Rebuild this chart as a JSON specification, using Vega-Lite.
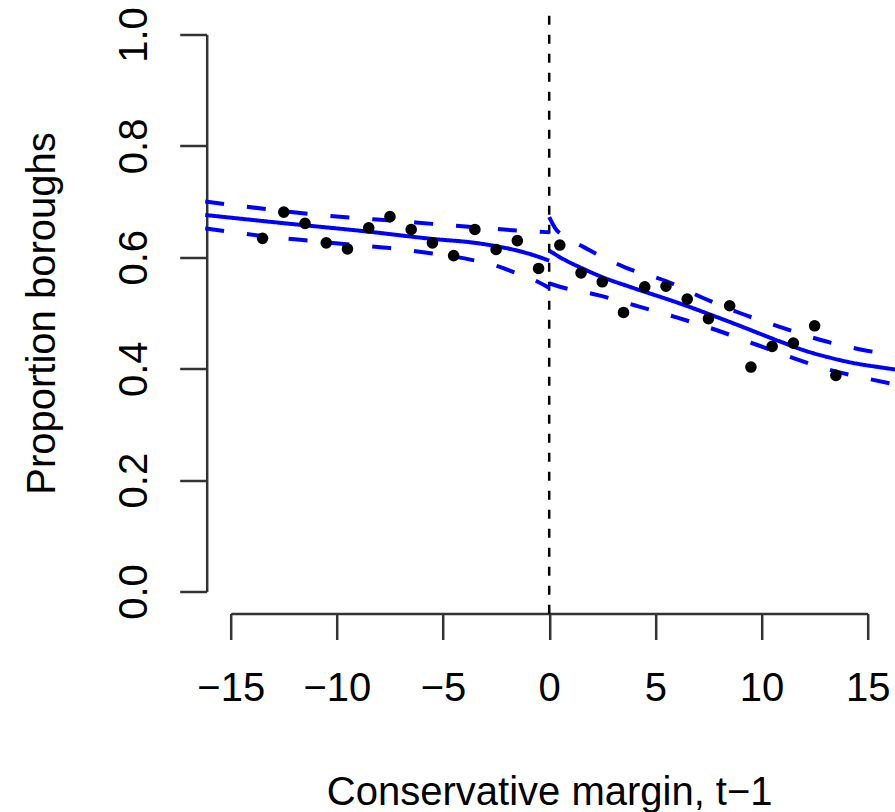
{
  "$schema": "https://vega.github.io/schema/vega-lite/v6.json",
  "width": 637,
  "height": 557,
  "autosize": {"type": "none"},
  "padding": {"left": 230.7, "top": 34.5, "right": 27.3, "bottom": 220.5},
  "background": "white",
  "config": {"view": {"stroke": null}, "font": "Liberation Sans"},
  "datasets": {
    "points": [
      {"margin": -13.5, "proportion": 0.634},
      {"margin": -12.5, "proportion": 0.681},
      {"margin": -11.5, "proportion": 0.661},
      {"margin": -10.5, "proportion": 0.626},
      {"margin": -9.5, "proportion": 0.615},
      {"margin": -8.5, "proportion": 0.653},
      {"margin": -7.5, "proportion": 0.673},
      {"margin": -6.5, "proportion": 0.65},
      {"margin": -5.5, "proportion": 0.626},
      {"margin": -4.5, "proportion": 0.603},
      {"margin": -3.5, "proportion": 0.65},
      {"margin": -2.5, "proportion": 0.614},
      {"margin": -1.5, "proportion": 0.63},
      {"margin": -0.5, "proportion": 0.58},
      {"margin": 0.5, "proportion": 0.622},
      {"margin": 1.5, "proportion": 0.572},
      {"margin": 2.5, "proportion": 0.556},
      {"margin": 3.5, "proportion": 0.501},
      {"margin": 4.5, "proportion": 0.547},
      {"margin": 5.5, "proportion": 0.548},
      {"margin": 6.5, "proportion": 0.525},
      {"margin": 7.5, "proportion": 0.49},
      {"margin": 8.5, "proportion": 0.513},
      {"margin": 9.5, "proportion": 0.403},
      {"margin": 10.5, "proportion": 0.44},
      {"margin": 11.5, "proportion": 0.446},
      {"margin": 12.5, "proportion": 0.477},
      {"margin": 13.5, "proportion": 0.388}
    ],
    "fits": [
      {"series": "fit_left", "style": "fit", "margin": -16.2, "proportion": 0.676},
      {"series": "fit_left", "style": "fit", "margin": -12.7, "proportion": 0.662},
      {"series": "fit_left", "style": "fit", "margin": -8.5, "proportion": 0.646},
      {"series": "fit_left", "style": "fit", "margin": -5.5, "proportion": 0.633},
      {"series": "fit_left", "style": "fit", "margin": -3.5, "proportion": 0.626},
      {"series": "fit_left", "style": "fit", "margin": -2.5, "proportion": 0.62},
      {"series": "fit_left", "style": "fit", "margin": -1.5, "proportion": 0.612},
      {"series": "fit_left", "style": "fit", "margin": -0.75, "proportion": 0.604},
      {"series": "fit_left", "style": "fit", "margin": 0, "proportion": 0.594},
      {"series": "upper_left", "style": "band", "margin": -16.2, "proportion": 0.7},
      {"series": "upper_left", "style": "band", "margin": -13.2, "proportion": 0.686},
      {"series": "upper_left", "style": "band", "margin": -11.3, "proportion": 0.678},
      {"series": "upper_left", "style": "band", "margin": -9.3, "proportion": 0.671},
      {"series": "upper_left", "style": "band", "margin": -7.35, "proportion": 0.666},
      {"series": "upper_left", "style": "band", "margin": -5.5, "proportion": 0.66},
      {"series": "upper_left", "style": "band", "margin": -3.5, "proportion": 0.654},
      {"series": "upper_left", "style": "band", "margin": -1.5, "proportion": 0.648},
      {"series": "upper_left", "style": "band", "margin": 0, "proportion": 0.645},
      {"series": "lower_left", "style": "band", "margin": -16.2, "proportion": 0.652},
      {"series": "lower_left", "style": "band", "margin": -13.2, "proportion": 0.637},
      {"series": "lower_left", "style": "band", "margin": -11.3, "proportion": 0.63},
      {"series": "lower_left", "style": "band", "margin": -9.2, "proportion": 0.622},
      {"series": "lower_left", "style": "band", "margin": -7.4, "proportion": 0.616},
      {"series": "lower_left", "style": "band", "margin": -5.5, "proportion": 0.607},
      {"series": "lower_left", "style": "band", "margin": -3.6, "proportion": 0.595},
      {"series": "lower_left", "style": "band", "margin": -2.5, "proportion": 0.585},
      {"series": "lower_left", "style": "band", "margin": -1.5, "proportion": 0.571},
      {"series": "lower_left", "style": "band", "margin": -0.7, "proportion": 0.559},
      {"series": "lower_left", "style": "band", "margin": 0, "proportion": 0.545},
      {"series": "fit_right", "style": "fit", "margin": 0, "proportion": 0.612},
      {"series": "fit_right", "style": "fit", "margin": 0.7, "proportion": 0.596},
      {"series": "fit_right", "style": "fit", "margin": 1.45, "proportion": 0.582},
      {"series": "fit_right", "style": "fit", "margin": 2.6, "proportion": 0.563},
      {"series": "fit_right", "style": "fit", "margin": 3.8, "proportion": 0.547},
      {"series": "fit_right", "style": "fit", "margin": 6.16, "proportion": 0.517},
      {"series": "fit_right", "style": "fit", "margin": 8.5, "proportion": 0.484},
      {"series": "fit_right", "style": "fit", "margin": 10.86, "proportion": 0.449},
      {"series": "fit_right", "style": "fit", "margin": 12.0, "proportion": 0.433},
      {"series": "fit_right", "style": "fit", "margin": 13.2, "proportion": 0.42},
      {"series": "fit_right", "style": "fit", "margin": 14.5, "proportion": 0.409},
      {"series": "fit_right", "style": "fit", "margin": 15.5, "proportion": 0.403},
      {"series": "fit_right", "style": "fit", "margin": 16.4, "proportion": 0.398},
      {"series": "upper_right", "style": "band", "margin": 0, "proportion": 0.672},
      {"series": "upper_right", "style": "band", "margin": 0.27, "proportion": 0.653},
      {"series": "upper_right", "style": "band", "margin": 1.0, "proportion": 0.632},
      {"series": "upper_right", "style": "band", "margin": 1.84, "proportion": 0.614},
      {"series": "upper_right", "style": "band", "margin": 3.57, "proportion": 0.582},
      {"series": "upper_right", "style": "band", "margin": 5.53, "proportion": 0.557},
      {"series": "upper_right", "style": "band", "margin": 7.25, "proportion": 0.527},
      {"series": "upper_right", "style": "band", "margin": 8.98, "proportion": 0.5},
      {"series": "upper_right", "style": "band", "margin": 10.86, "proportion": 0.475},
      {"series": "upper_right", "style": "band", "margin": 12.75, "proportion": 0.452},
      {"series": "upper_right", "style": "band", "margin": 14.6, "proportion": 0.435},
      {"series": "upper_right", "style": "band", "margin": 16.4, "proportion": 0.424},
      {"series": "lower_right", "style": "band", "margin": 0, "proportion": 0.553},
      {"series": "lower_right", "style": "band", "margin": 0.42, "proportion": 0.548},
      {"series": "lower_right", "style": "band", "margin": 2.3, "proportion": 0.532},
      {"series": "lower_right", "style": "band", "margin": 4.1, "proportion": 0.513},
      {"series": "lower_right", "style": "band", "margin": 6.0, "proportion": 0.492},
      {"series": "lower_right", "style": "band", "margin": 7.9, "proportion": 0.469},
      {"series": "lower_right", "style": "band", "margin": 9.77, "proportion": 0.443},
      {"series": "lower_right", "style": "band", "margin": 11.5, "proportion": 0.419},
      {"series": "lower_right", "style": "band", "margin": 13.4, "proportion": 0.396},
      {"series": "lower_right", "style": "band", "margin": 15.26, "proportion": 0.38},
      {"series": "lower_right", "style": "band", "margin": 16.4, "proportion": 0.371}
    ],
    "cutoff": [
      {"margin": 0, "proportion": -0.04, "proportion_end": 1.04}
    ]
  },
  "encoding": {
    "x": {
      "field": "margin",
      "type": "quantitative",
      "scale": {"domain": [-15, 15], "nice": false, "zero": false},
      "axis": {
        "values": [-15, -10, -5, 0, 5, 10, 15],
        "format": "d",
        "grid": false,
        "offset": 22,
        "tickSize": 26,
        "tickWidth": 2.5,
        "tickColor": "#333333",
        "domainWidth": 2.5,
        "domainColor": "#333333",
        "labelFont": "Liberation Sans",
        "labelFontSize": 40,
        "labelColor": "black",
        "labelBaseline": "alphabetic",
        "labelPadding": 61,
        "labelFlush": false,
        "labelOverlap": false,
        "labelBound": false,
        "title": "Conservative margin, t\u22121",
        "titleFont": "Liberation Sans",
        "titleFontSize": 40,
        "titleFontWeight": "normal",
        "titleColor": "black",
        "titleBaseline": "alphabetic",
        "titleY": 191
      }
    },
    "y": {
      "field": "proportion",
      "type": "quantitative",
      "scale": {"domain": [0, 1], "nice": false, "zero": false},
      "axis": {
        "values": [0, 0.2, 0.4, 0.6, 0.8, 1],
        "format": ".1f",
        "grid": false,
        "offset": 24,
        "tickSize": 27,
        "tickWidth": 2.5,
        "tickColor": "#333333",
        "domainWidth": 2.5,
        "domainColor": "#333333",
        "labelFont": "Liberation Sans",
        "labelFontSize": 40,
        "labelColor": "black",
        "labelAngle": -90,
        "labelAlign": "center",
        "labelBaseline": "alphabetic",
        "labelPadding": 33,
        "labelOverlap": false,
        "labelBound": false,
        "title": "Proportion boroughs",
        "titleFont": "Liberation Sans",
        "titleFontSize": 40,
        "titleFontWeight": "normal",
        "titleColor": "black",
        "titleAngle": -90,
        "titleBaseline": "alphabetic",
        "titleX": -152
      }
    }
  },
  "layer": [
    {
      "data": {"name": "cutoff"},
      "mark": {"type": "rule", "color": "black", "strokeWidth": 2.5, "strokeDash": [9, 10]},
      "encoding": {"y2": {"field": "proportion_end"}}
    },
    {
      "data": {"name": "fits"},
      "mark": {"type": "line", "color": "#0000ff", "strokeWidth": 4, "strokeCap": "butt", "interpolate": "monotone"},
      "encoding": {
        "detail": {"field": "series", "type": "nominal"},
        "strokeDash": {
          "field": "style",
          "type": "nominal",
          "scale": {"domain": ["fit", "band"], "range": [[1, 0], [19, 23]]},
          "legend": null
        }
      }
    },
    {
      "data": {"name": "points"},
      "mark": {"type": "circle", "color": "black", "opacity": 1, "size": 135}
    }
  ]
}
